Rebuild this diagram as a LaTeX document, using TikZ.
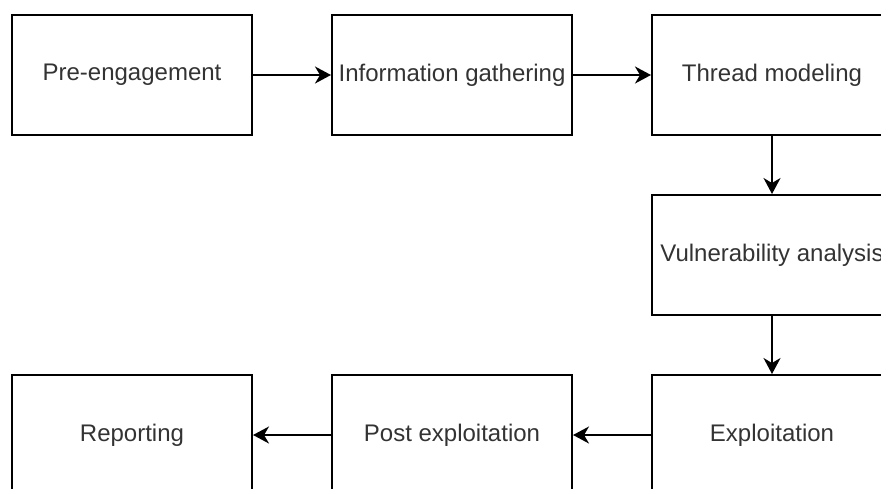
\documentclass[tikz,border=0pt]{standalone}
\usepackage{fontspec}
\setmainfont{Liberation Sans}
\usetikzlibrary{arrows.meta,positioning}

\begin{document}
\begin{tikzpicture}
[
x=0.5pt, y=-0.5pt
, >={Stealth[length=8pt,width=8.5pt,inset=2.5pt]}
, every node/.style={font=\fontsize{12}{14}\selectfont, text=black!80}
, phase/.style={draw=black, line width=1pt, minimum width=120pt, minimum height=60pt, inner sep=0pt}
, flow/.style={->, line width=1pt}
]

\clip (0,0) rectangle (881,488);

% top row
\node[phase] (pre) at (132,75) {Pre-engagement};
\node[phase] (info) at (452,75) {Information gathering};
\node[phase] (thread) at (772,75) {Thread modeling};

% right column
\node[phase] (vuln) at (772,255) {Vulnerability analysis};

% bottom row
\node[phase] (exploit) at (772,435) {Exploitation};
\node[phase] (post) at (452,435) {Post exploitation};
\node[phase] (report) at (132,435) {Reporting};

% connections
\draw[flow] (pre) -- (info);
\draw[flow] (info) -- (thread);
\draw[flow] (thread) -- (vuln);
\draw[flow] (vuln) -- (exploit);
\draw[flow] (exploit) -- (post);
\draw[flow] (post) -- (report);

\end{tikzpicture}
\end{document}
